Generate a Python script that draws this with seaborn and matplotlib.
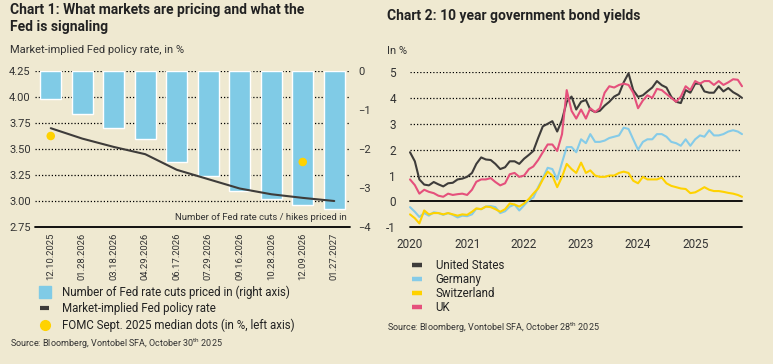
import numpy as np
import pandas as pd
import matplotlib
matplotlib.use("Agg")
import matplotlib.pyplot as plt
import seaborn as sns
from matplotlib.lines import Line2D

# ---------------- Chart 1 data ----------------
meetings = ["12.10.2025", "01.28.2026", "03.18.2026", "04.29.2026", "06.17.2026",
            "07.29.2026", "09.16.2026", "10.28.2026", "12.09.2026", "01.27.2027"]
cuts_priced = [-0.72, -1.10, -1.47, -1.74, -2.34, -2.69, -3.07, -3.27, -3.44, -3.53]
implied_rate = [3.70, 3.60, 3.52, 3.45, 3.30, 3.21, 3.12, 3.065, 3.03, 3.00]
fomc_meetings = ["12.10.2025", "12.09.2026"]
fomc_dots = [3.625, 3.375]
left_ticks = [2.75, 3.00, 3.25, 3.50, 3.75, 4.00, 4.25]
right_ticks = [-4, -3, -2, -1, 0]

# ---------------- Chart 2 data ----------------
month_starts = list(pd.date_range("2020-01-01", "2025-10-01", freq="MS"))
last_day = pd.Timestamp("2025-10-28")
countries = ["United States", "Germany", "Switzerland", "UK"]
us = [1.90, 1.55, 0.85, 0.65, 0.62, 0.75, 0.66, 0.58, 0.70, 0.72, 0.85, 0.88,
      0.95, 1.10, 1.45, 1.70, 1.62, 1.60, 1.45, 1.25, 1.32, 1.55, 1.55, 1.45,
      1.65, 1.80, 1.95, 2.45, 2.90, 3.00, 3.10, 2.70, 3.15, 3.85, 4.05, 3.55,
      3.85, 3.92, 3.55, 3.45, 3.50, 3.70, 3.85, 4.05, 4.15, 4.60, 4.95, 4.30,
      4.04, 4.10, 4.25, 4.40, 4.65, 4.49, 4.40, 4.04, 3.85, 3.80, 4.30, 4.20,
      4.55, 4.55, 4.25, 4.20, 4.20, 4.45, 4.25, 4.38, 4.22, 4.12, 4.00]
germany = [-0.22, -0.40, -0.60, -0.45, -0.55, -0.42, -0.45, -0.52, -0.45, -0.52, -0.62, -0.55,
           -0.57, -0.50, -0.28, -0.30, -0.20, -0.18, -0.22, -0.45, -0.38, -0.20, -0.12, -0.35,
           -0.15, 0.05, 0.15, 0.55, 0.90, 1.30, 1.25, 0.85, 1.50, 2.10, 2.10, 1.90,
           2.40, 2.25, 2.60, 2.30, 2.30, 2.35, 2.45, 2.50, 2.55, 2.85, 2.80, 2.40,
           2.00, 2.30, 2.40, 2.40, 2.60, 2.60, 2.50, 2.30, 2.25, 2.15, 2.40, 2.15,
           2.40, 2.55, 2.50, 2.75, 2.55, 2.55, 2.60, 2.70, 2.75, 2.70, 2.60]
switzerland = [-0.50, -0.65, -0.85, -0.35, -0.50, -0.45, -0.45, -0.50, -0.45, -0.50, -0.55, -0.50,
               -0.52, -0.40, -0.27, -0.30, -0.20, -0.22, -0.30, -0.40, -0.30, -0.08, -0.12, -0.20,
               -0.08, 0.10, 0.30, 0.50, 0.85, 1.15, 1.00, 0.55, 0.95, 1.45, 1.25, 1.10,
               1.50, 1.10, 1.20, 1.00, 0.95, 0.95, 1.00, 1.00, 1.10, 1.15, 1.10, 0.80,
               0.70, 0.95, 0.85, 0.85, 0.85, 0.92, 0.70, 0.60, 0.55, 0.50, 0.48, 0.32,
               0.35, 0.45, 0.55, 0.45, 0.40, 0.40, 0.37, 0.33, 0.30, 0.25, 0.18]
uk = [0.85, 0.63, 0.30, 0.45, 0.37, 0.32, 0.22, 0.18, 0.30, 0.25, 0.28, 0.30,
      0.25, 0.45, 0.76, 0.85, 0.85, 0.90, 0.75, 0.62, 0.70, 1.05, 1.10, 0.95,
      1.00, 1.25, 1.35, 1.60, 1.90, 2.20, 2.20, 1.95, 2.60, 4.30, 3.50, 3.20,
      3.55, 3.20, 3.60, 3.45, 3.60, 4.20, 4.45, 4.40, 4.50, 4.55, 4.50, 4.20,
      3.60, 3.90, 4.10, 4.00, 4.35, 4.30, 4.15, 4.00, 3.85, 4.05, 4.45, 4.30,
      4.65, 4.55, 4.65, 4.65, 4.50, 4.65, 4.50, 4.60, 4.72, 4.70, 4.45]
year_ticks = [2020, 2021, 2022, 2023, 2024, 2025]
yield_ticks = [-1, 0, 1, 2, 3, 4, 5]

# ---------------- style ----------------
BG = "#efe9d1"
C_BAR = "#80cbe6"
C_DARK = "#3e3c3a"
C_YEL = "#ffd200"
C_PINK = "#e5507c"
C_BLUE = "#85cbe8"
TXT = "#222222"
sns.set_style("white")
plt.rcParams["font.family"] = ["Roboto", "DejaVu Sans"]
plt.rcParams["mathtext.default"] = "regular"

W, H = 773, 364
fig = plt.figure(figsize=(W / 100, H / 100), dpi=100, facecolor=BG)


def fx(px):
    return px / W


def fy(py):
    return 1 - py / H


# ================= Chart 1 =================
rect1 = [fx(35), fy(227), fx(350) - fx(35), fy(71) - fy(227)]
ax1 = fig.add_axes(rect1)          # left scale: grid + ticks
ax1.set_facecolor(BG)
ax2 = ax1.twinx()                  # right scale: bars
ax3 = ax1.twinx()                  # left scale: line + dots

df1 = pd.DataFrame({"meeting": meetings, "cuts": cuts_priced, "rate": implied_rate})
sns.barplot(data=df1, x="meeting", y="cuts", order=meetings, color=C_BAR,
            width=0.67, saturation=1, ax=ax2)
pos = {m: i for i, m in enumerate(meetings)}
df1["pos"] = df1["meeting"].map(pos)
sns.lineplot(data=df1, x="pos", y="rate", color=C_DARK, lw=1.5, ax=ax3)
dots = pd.DataFrame({"pos": [pos[m] for m in fomc_meetings], "v": fomc_dots})
sns.scatterplot(data=dots, x="pos", y="v", color=C_YEL, s=38, edgecolor="none",
                ax=ax3, zorder=5)

for a in (ax1, ax3):
    a.set_ylim(2.75, 4.25)
ax2.set_ylim(-4, 0)
ax1.set_xlim(-0.5, len(meetings) - 0.5)

for v in left_ticks[1:]:
    ax1.axhline(v, color="black", lw=0.9, ls=(0, (1, 1.6)), zorder=0)
ax1.axhline(2.75, color="black", lw=1.3, zorder=0, clip_on=False)

ax1.set_yticks(left_ticks)
ax1.set_yticklabels([f"{v:.2f}" for v in left_ticks])
ax1.tick_params(axis="y", length=0, pad=3, labelsize=8, labelcolor="#333333")
ax2.set_yticks(right_ticks)
ax2.set_yticklabels([str(v).replace("-", "\u2212") for v in right_ticks])
ax2.tick_params(axis="y", length=0, pad=6, labelsize=8, labelcolor="#333333")
ax3.set_yticks([])
ax1.set_xticks(range(len(meetings)))
ax1.set_xticklabels(meetings, rotation=90)
ax1.tick_params(axis="x", length=0, pad=4, labelsize=6.8, labelcolor="#333333")
for a in (ax1, ax2, ax3):
    a.set_xlabel("")
    a.set_ylabel("")
    for s in a.spines.values():
        s.set_visible(False)
ax2.xaxis.set_visible(False)
ax3.xaxis.set_visible(False)

fig.text(fx(347), fy(218), "Number of Fed rate cuts / hikes priced in", ha="right",
         va="center", fontsize=6.8, color="#333333")

fig.text(fx(10), fy(3), "Chart 1: What markets are pricing and what the\nFed is signaling",
         ha="left", va="top", fontsize=10, fontweight="bold", color=TXT, linespacing=1.3)
fig.text(fx(10), fy(50), "Market-implied Fed policy rate, in %", ha="left", va="center",
         fontsize=8, color="#333333")

h1 = [Line2D([], [], ls="none", marker="s", ms=8.5, color=C_BAR),
      Line2D([], [], color=C_DARK, lw=3, solid_capstyle="butt"),
      Line2D([], [], ls="none", marker="o", ms=7, color=C_YEL)]
l1 = ["Number of Fed rate cuts priced in (right axis)", "Market-implied Fed policy rate",
      "FOMC Sept. 2025 median dots (in %, left axis)"]
fig.legend(h1, l1, loc="upper left", bbox_to_anchor=(fx(40), fy(286)), frameon=False,
           fontsize=8.3, handlelength=0.8, handletextpad=1.1, labelspacing=0.25,
           borderpad=0, borderaxespad=0, labelcolor="#222222")
fig.text(fx(10), fy(344), r"Source: Bloomberg, Vontobel SFA, October 30$^{th}$ 2025",
         ha="left", va="center", fontsize=6.5, color="#333333")

# ================= Chart 2 =================
dates = month_starts + [last_day]
bonds = pd.concat([
    pd.DataFrame({"date": dates, "yield": vals, "country": c})
    for c, vals in zip(countries, [us, germany, switzerland, uk])
], ignore_index=True)
palette = {"United States": C_DARK, "Germany": C_BLUE, "Switzerland": C_YEL, "UK": C_PINK}

rect2 = [fx(410), fy(227.3), fx(742) - fx(410), fy(72) - fy(227.3)]
ax4 = fig.add_axes(rect2)
ax4.set_facecolor(BG)
sns.lineplot(data=bonds, x="date", y="yield", hue="country", hue_order=countries,
             palette=palette, lw=1.5, legend=False, ax=ax4)
for ln in ax4.get_lines():
    ln.set_clip_on(False)
ax4.set_ylim(-1, 5)
ax4.set_xlim(pd.Timestamp("2020-01-01"), last_day)
for v in yield_ticks:
    if v > 0:
        ax4.axhline(v, color="black", lw=0.9, ls=(0, (1, 1.6)), zorder=0)
    else:
        ax4.axhline(v, color="black", lw=1.3, zorder=0.5, clip_on=False)
ax4.set_yticks(yield_ticks)
ax4.set_yticklabels([str(v) for v in yield_ticks])
ax4.tick_params(axis="y", length=0, pad=10, labelsize=8.5, labelcolor="#333333")
ax4.set_xticks([pd.Timestamp(f"{y}-01-01") for y in year_ticks])
ax4.set_xticklabels([str(y) for y in year_ticks])
ax4.tick_params(axis="x", length=0, pad=8, labelsize=8.5, labelcolor="#333333")
ax4.set_xlabel("")
ax4.set_ylabel("")
for s in ax4.spines.values():
    s.set_visible(False)

fig.text(fx(387), fy(16), "Chart 2: 10 year government bond yields", ha="left",
         va="center", fontsize=10, fontweight="bold", color=TXT)
fig.text(fx(387), fy(51), "In %", ha="left", va="center", fontsize=8, color="#333333")

h2 = [Line2D([], [], color=palette[c], lw=3.2, solid_capstyle="butt") for c in countries]
fig.legend(h2, countries, loc="upper left", bbox_to_anchor=(fx(412), fy(259)),
           frameon=False, fontsize=8.3, handlelength=0.85, handletextpad=1.2,
           labelspacing=0.1, borderpad=0, borderaxespad=0, labelcolor="#222222")
fig.text(fx(387), fy(328), r"Source: Bloomberg, Vontobel SFA, October 28$^{th}$ 2025",
         ha="left", va="center", fontsize=6.5, color="#333333")

fig.savefig("out.png", dpi=100, facecolor=BG)
